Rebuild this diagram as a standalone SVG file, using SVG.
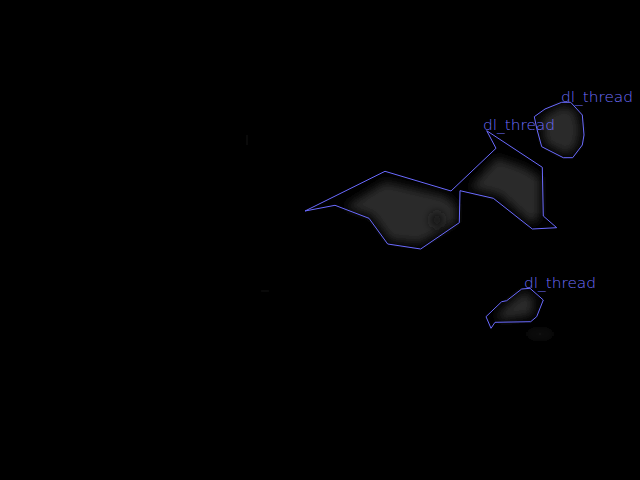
<svg xmlns="http://www.w3.org/2000/svg" width="640" height="480" viewBox="0 0 640 480">
<defs>
<filter id="blur" x="-30%" y="-30%" width="160%" height="160%"><feGaussianBlur stdDeviation="5"/></filter>
<filter id="blur2" x="-50%" y="-50%" width="200%" height="200%"><feGaussianBlur stdDeviation="4"/></filter>
<style>
.outline{fill:none;stroke:#6a6aff;stroke-width:1;stroke-linejoin:round}
.lbl{font-family:"DejaVu Sans",sans-serif;font-size:14px;font-weight:200;fill:#7070ff}
.blob{fill:#2a2a2a}
</style>
</defs>
<rect width="640" height="480" fill="#000"/>
<g id="blobs" filter="url(#blur)">
<path class="blob" d="M345,207 L385,182 L445,196 L456,205 L456,222 L420,243 L390,240 L372,215 Z"/>
<path class="blob" d="M470,188 L497,158 L525,168 L540,178 L540,215 L532,224 L500,195 Z"/>
<path class="blob" d="M542,118 L562,106 L575,110 L580,130 L576,148 L565,154 L545,143 Z"/>
<path class="blob" d="M497,315 L510,303 L524,292 L534,298 L532,315 L500,320 Z"/>
</g>
<g filter="url(#blur2)">
<ellipse cx="437" cy="220" rx="7" ry="8" fill="#151515"/>
<ellipse cx="540" cy="334" rx="14" ry="3" fill="#1e1e1e"/>
<ellipse cx="265" cy="291" rx="5" ry="3" fill="#141414"/>
<ellipse cx="188" cy="80" rx="2" ry="8" fill="#111"/>
<ellipse cx="115" cy="112" rx="6" ry="2" fill="#0f0f0f"/>
<ellipse cx="247" cy="140" rx="3" ry="10" fill="#0e0e0e"/>
</g>
<g id="node-1">
<polygon class="outline" points="305,211 385,171.3 451,191 496,148.3 486.7,130.7 542.3,167.3 543.3,216 556.7,227.7 532.3,229 493.3,198.3 460,190.7 459.3,222.7 420.7,249 387.7,244 369,218.3 335,205.3"/>
<text class="lbl" x="483" y="130" textLength="72" lengthAdjust="spacingAndGlyphs">dl_thread</text>
</g>
<g id="node-2">
<polygon class="outline" points="534.3,116.7 545,109 561.7,102.3 570.7,102.3 582.3,115 584,135 582.3,145 572.7,157.7 563.3,157.7 541.7,146.7 536.7,128.3"/>
<text class="lbl" x="561" y="102" textLength="72" lengthAdjust="spacingAndGlyphs">dl_thread</text>
</g>
<g id="node-3">
<polygon class="outline" points="486,316.7 501.7,301.7 506.7,300.7 521.7,289 530,288.3 543.3,300 536.7,316.7 530.7,321.7 495,322.3 491,328.3"/>
<text class="lbl" x="524" y="288" textLength="72" lengthAdjust="spacingAndGlyphs">dl_thread</text>
</g>
<g id="connectors"/>
</svg>
